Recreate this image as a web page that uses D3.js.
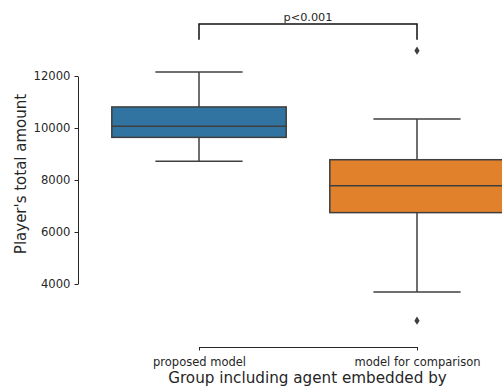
<!DOCTYPE html>
<html>
<head>
<meta charset="utf-8">
<script src="https://cdn.jsdelivr.net/npm/d3@7/dist/d3.min.js"></script>
<style>
  html, body { margin: 0; padding: 0; background: #fff; }
  svg { display: block; }
  text { font-family: "DejaVu Sans", sans-serif; fill: #262626; }
</style>
</head>
<body>
<svg id="chart" width="502" height="387"></svg>
<script>
// Groups and their box-plot summaries (Player's total amount)
const groups = ["proposed model", "model for comparison"];
const whiskerLow = [8720, 3690];
const q1 = [9640, 6745];
const median = [10065, 7780];
const q3 = [10810, 8780];
const whiskerHigh = [12155, 10345];
const outliers = [[], [12975, 2590]];
const fills = ["#3274a1", "#e1812c"];
const yTicks = [4000, 6000, 8000, 10000, 12000];
const pLabel = "p<0.001";

const svg = d3.select("#chart");
const edge = "#3f3f3f";

const y = d3.scaleLinear().domain([4000, 12000]).range([284, 76]);
const x = d3.scalePoint().domain(groups).range([199, 417]);
const boxW = x.step() * 0.8;
const capW = boxW * 0.5;

// Y axis (trimmed spine)
const yAxis = svg.append("g")
  .attr("transform", "translate(78,0)")
  .call(d3.axisLeft(y).tickValues(yTicks).tickFormat(d3.format("d"))
    .tickSize(3.5).tickSizeOuter(0).tickPadding(4));
yAxis.selectAll("path, line").attr("stroke", "#262626").attr("stroke-width", 1);
yAxis.selectAll("text").attr("font-size", "11.6px").style("fill", "#262626");

// X axis (trimmed spine, offset below the data)
const xAxis = svg.append("g")
  .attr("transform", "translate(0,347)")
  .call(d3.axisBottom(x).tickSize(3.5).tickSizeOuter(0).tickPadding(7));
xAxis.selectAll("path, line").attr("stroke", "#262626").attr("stroke-width", 1);
xAxis.selectAll("text").attr("font-size", "11.5px").style("fill", "#262626");

// Axis titles
svg.append("text")
  .attr("transform", "translate(25.5,174) rotate(-90)")
  .attr("text-anchor", "middle")
  .attr("font-size", "15px")
  .text("Player's total amount");
svg.append("text")
  .attr("x", 307.5).attr("y", 383)
  .attr("text-anchor", "middle")
  .attr("font-size", "15.2px")
  .text("Group including agent embedded by");

// Boxes
const data = groups.map((g, i) => ({
  g, lo: whiskerLow[i], q1: q1[i], med: median[i], q3: q3[i], hi: whiskerHigh[i],
  out: outliers[i], fill: fills[i]
}));

const box = svg.append("g").selectAll("g").data(data).join("g");

box.append("line")
  .attr("x1", d => x(d.g)).attr("x2", d => x(d.g))
  .attr("y1", d => y(d.hi)).attr("y2", d => y(d.q3))
  .attr("stroke", edge).attr("stroke-width", 1.5);
box.append("line")
  .attr("x1", d => x(d.g)).attr("x2", d => x(d.g))
  .attr("y1", d => y(d.q1)).attr("y2", d => y(d.lo))
  .attr("stroke", edge).attr("stroke-width", 1.5);
box.append("line")
  .attr("x1", d => x(d.g) - capW / 2).attr("x2", d => x(d.g) + capW / 2)
  .attr("y1", d => y(d.hi)).attr("y2", d => y(d.hi))
  .attr("stroke", edge).attr("stroke-width", 1.5);
box.append("line")
  .attr("x1", d => x(d.g) - capW / 2).attr("x2", d => x(d.g) + capW / 2)
  .attr("y1", d => y(d.lo)).attr("y2", d => y(d.lo))
  .attr("stroke", edge).attr("stroke-width", 1.5);
box.append("rect")
  .attr("x", d => x(d.g) - boxW / 2).attr("width", boxW)
  .attr("y", d => y(d.q3)).attr("height", d => y(d.q1) - y(d.q3))
  .attr("fill", d => d.fill)
  .attr("stroke", edge).attr("stroke-width", 1.5);
box.append("line")
  .attr("x1", d => x(d.g) - boxW / 2).attr("x2", d => x(d.g) + boxW / 2)
  .attr("y1", d => y(d.med)).attr("y2", d => y(d.med))
  .attr("stroke", edge).attr("stroke-width", 1.5);

// Outliers as diamonds
const diamond = "M0,-4.2L2.6,0L0,4.2L-2.6,0Z";
box.each(function(d) {
  d3.select(this).selectAll("path.out").data(d.out).join("path")
    .attr("class", "out")
    .attr("d", diamond)
    .attr("transform", v => `translate(${x(d.g)},${y(v)})`)
    .attr("fill", edge);
});

// Significance bracket
const bracketTop = y(whiskerHigh[0]) - 48;
const bracketLeg = y(outliers[1][0]) - 11;
svg.append("path")
  .attr("d", `M${x(groups[0])},${bracketLeg}V${bracketTop}H${x(groups[1])}V${bracketLeg}`)
  .attr("fill", "none").attr("stroke", "#111").attr("stroke-width", 1.5);
svg.append("text")
  .attr("x", (x(groups[0]) + x(groups[1])) / 2).attr("y", bracketTop - 3)
  .attr("text-anchor", "middle")
  .attr("font-size", "11.3px")
  .text(pLabel);
</script>
</body>
</html>
